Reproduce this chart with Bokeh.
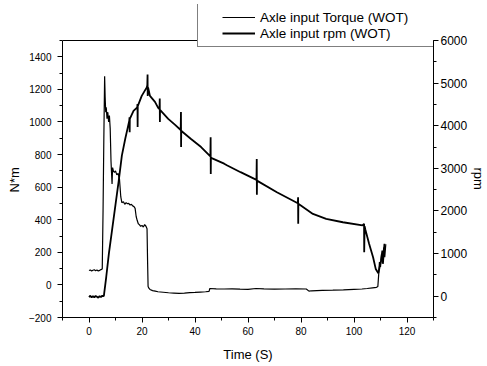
from bokeh.plotting import figure
from bokeh.models import (Range1d, LinearAxis, SingleIntervalTicker, Legend,
                          LegendItem, Span, Title)
from bokeh.embed import file_html
from bokeh.resources import INLINE

# ---------------- data ----------------
torque_time = [0, 0.5, 1, 1.5, 2, 2.5, 3, 3.5, 4, 4.5, 5.0, 5.3, 5.6, 5.9, 6.1,
               6.3, 6.5, 6.8, 7.1, 7.4, 7.7, 8.0, 8.3, 8.5, 8.7, 8.9, 9.2, 9.6,
               10.0, 10.5, 11.0, 11.5, 12.0, 12.4, 13, 13.5, 14, 14.5, 15, 15.5,
               16, 16.5, 17, 17.4, 17.8, 18.2, 18.6, 19, 19.5, 20, 20.5, 21, 21.5,
               21.9, 22.1, 22.3, 22.6, 23, 24, 25, 26, 28, 30, 32, 34, 36, 38, 40,
               42, 44, 45.3, 45.6, 48, 51, 54, 57, 60, 63, 66, 70, 74, 78, 82, 83,
               84, 88, 92, 96, 100, 103, 105, 107, 108.5, 109.0, 109.3, 109.6,
               110.0, 110.4, 110.8, 111.2, 111.6, 112.0]
torque_nm = [88, 92, 86, 90, 93, 87, 91, 85, 89, 94, 98, 450, 900, 1280, 1150,
             1060, 1090, 1020, 1060, 1000, 1040, 960, 760, 690, 620, 720, 700, 690,
             700, 675, 685, 650, 540, 505, 510, 495, 505, 498, 500, 490,
             495, 485, 480, 470, 420, 395, 375, 370, 360, 365, 355, 370, 360,
             345, 150, -10, -20, -28, -35, -38, -42, -45, -48, -50, -52, -50, -47, -46,
             -44, -42, -40, -22, -24, -25, -24, -26, -27, -22, -24, -26, -25, -24, -25, -38,
             -36, -33, -32, -30, -27, -25, -22, -18, -15, -10, 60, 140,
             110, 190, 140, 230, 170, 250]

rpm_time = [0, 0.5, 1, 1.5, 2, 2.5, 3, 3.5, 4, 4.5, 5.0, 5.6, 6.5, 7.5, 8.7,
            10.0, 11.2, 12.4, 13.7, 14.6, 15.2, 15.3, 15.35, 15.4, 16.8,
            18.2, 18.3, 18.35, 18.4, 19.9, 21.8, 22.0, 22.1, 22.15, 22.3, 23.0,
            24.9, 26.1, 26.6, 26.7, 26.75, 26.8, 29.9, 32.5, 34.6, 34.7, 34.75,
            34.8, 35.0, 38.5, 42.3, 45.8, 45.9, 45.95, 46.0, 46.3, 51.0, 52.2,
            57.2, 63.2, 63.3, 63.35, 63.4, 63.7, 70.9, 78.8, 78.9, 78.95, 79.0,
            79.4, 84.5, 89.5, 95.8, 103.2, 103.8, 103.85, 104.0, 104.3, 105.7,
            107.2, 108.2, 109.2, 110.2, 110.7, 110.9, 111.5]
rpm_val = [-20, 10, -30, 0, -25, 5, -15, -35, 0, -20, 10, 0, 450, 1000, 1550,
           2150, 2700, 3300, 3700, 3950, 4120, 4200, 3850, 4160, 4350,
           4430, 4510, 3970, 4460, 4700, 4900, 4950, 5200, 4700, 4900, 4700,
           4560, 4420, 4390, 4640, 4090, 4370, 4160, 4020, 3900, 4320, 3500,
           3890, 3870, 3690, 3500, 3280, 3730, 2870, 3260, 3240, 3110, 3067,
           2910, 2730, 3220, 2380, 2715, 2700, 2440, 2180, 2320, 1700, 2170,
           2150, 1930, 1815, 1735, 1660, 1700, 1030, 1640, 1560, 1230,
           915, 640, 540, 840, 1070, 760, 1230]

x_limits = (-10, 130)
torque_limits = (-200, 1500)
rpm_limits = (-500, 6000)
x_ticks_step = 20
torque_ticks_step = 200
rpm_ticks_step = 1000
legend_labels = ["Axle input Torque (WOT)", "Axle input rpm (WOT)"]

FONT = "Liberation Sans"

# the plotting frame is extended upward (36 px over a 277 px axis) so that the
# legend, which overlaps the top of the axes box, is drawn inside it
EXTRA = 36 / 277


def extended(lo, hi):
    return Range1d(lo, hi + (hi - lo) * EXTRA)


p = figure(width=487, height=366, x_range=Range1d(*x_limits),
           y_range=extended(*torque_limits), output_backend="svg",
           toolbar_location=None, min_border_left=62, min_border_right=52,
           min_border_top=4, min_border_bottom=49)
p.extra_y_ranges = {"rpm": extended(*rpm_limits)}
p.xgrid.visible = False
p.ygrid.visible = False
p.outline_line_color = None
p.background_fill_color = "white"
p.border_fill_color = "white"


def style_axis(ax, size="10px"):
    ax.axis_line_color = "black"
    ax.major_tick_line_color = "black"
    ax.minor_tick_line_color = "black"
    ax.major_label_text_font = FONT
    ax.major_label_text_font_size = size
    ax.major_label_text_color = "black"
    ax.axis_label_text_font = FONT
    ax.axis_label_text_font_size = "13px"
    ax.axis_label_text_font_style = "normal"
    ax.axis_label_text_color = "black"
    ax.major_tick_out = 5
    ax.major_tick_in = 0
    ax.minor_tick_out = 3
    ax.minor_tick_in = 0


xa = p.xaxis[0]
xa.ticker = SingleIntervalTicker(interval=x_ticks_step, num_minor_ticks=2)
xa.axis_label = "Time (S)"
style_axis(xa)
xa.major_label_standoff = 4
xa.axis_label_standoff = 9

ya = p.yaxis[0]
ya.ticker = SingleIntervalTicker(interval=torque_ticks_step, num_minor_ticks=2)
ya.bounds = torque_limits
style_axis(ya)
ya.major_label_standoff = 6

ra = LinearAxis(y_range_name="rpm",
                ticker=SingleIntervalTicker(interval=rpm_ticks_step, num_minor_ticks=2),
                bounds=rpm_limits)
style_axis(ra, "12px")
ra.major_label_standoff = 2
p.add_layout(ra, "right")

# axis titles, placed at the middle of the visible axes box
p.add_layout(Title(text="N*m", align="left", offset=125, standoff=8,
                   text_font=FONT, text_font_size="13px",
                   text_font_style="normal", text_color="black"), "left")
p.add_layout(Title(text="rpm", align="left", offset=163, standoff=0,
                   text_font=FONT, text_font_size="13px",
                   text_font_style="normal", text_color="black"), "right")

# top edge of the axes box
p.add_layout(Span(location=torque_limits[1], dimension="width",
                  line_color="black", line_width=1))

r_t = p.line(torque_time, torque_nm, line_color="black", line_width=1.2)
r_r = p.line(rpm_time, rpm_val, line_color="black", line_width=1.8,
             y_range_name="rpm")

# invisible renderer, only used so that the legend frame can be sized
r_box = p.line(x=[], y=[], line_alpha=0)

legend_frame = Legend(items=[LegendItem(label=" ", renderers=[r_box]),
                             LegendItem(label="  ", renderers=[r_box])],
                      location=(135, 270), padding=5, margin=0, spacing=0,
                      glyph_width=20, glyph_height=16, label_height=16,
                      label_width=207, label_standoff=0,
                      border_line_color="black", border_line_width=1,
                      background_fill_color="white", background_fill_alpha=1,
                      label_text_font=FONT, label_text_font_size="13.5px",
                      label_text_alpha=0)
p.add_layout(legend_frame)

legend = Legend(items=[LegendItem(label=legend_labels[0], renderers=[r_t]),
                       LegendItem(label=legend_labels[1], renderers=[r_r])],
                location=(160, 276), padding=0, margin=0, spacing=0,
                glyph_width=33, glyph_height=16, label_height=16,
                label_standoff=5, border_line_color=None,
                background_fill_alpha=0,
                label_text_font=FONT, label_text_font_size="13.5px",
                label_text_color="black")
p.add_layout(legend)

open("out.html", "w").write(file_html(p, INLINE))
